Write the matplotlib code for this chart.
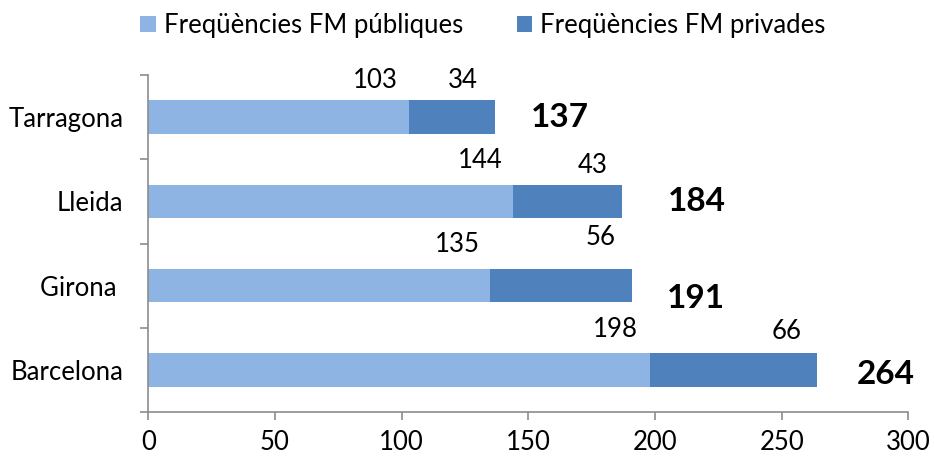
import matplotlib
matplotlib.use("Agg")
import matplotlib.pyplot as plt
import numpy as np

plt.rcParams['font.family'] = ['Lato', 'DejaVu Sans']

categories = ["Barcelona", "Girona ", "Lleida", "Tarragona"]
publiques = [198, 135, 144, 103]
privades = [66, 56, 43, 34]
totals = [264, 191, 184, 137]
series_names = ["Freqüències FM públiques", "Freqüències FM privades"]
x_ticks = [0, 50, 100, 150, 200, 250, 300]

# manually placed label positions (data x, y offset in category units)
pub_label_x = [184.5, 122, 131, 89.5]
pub_label_dy = [0.48, 0.49, 0.48, 0.43]
priv_label_x = [252, 178.6, 175.5, 124]
priv_label_dy = [0.46, 0.57, 0.42, 0.43]
tot_label_x = [291, 216, 216.6, 162.5]
tot_label_dy = [-0.05, -0.15, 0.0, 0.0]

c_pub = "#8EB4E3"
c_priv = "#4F81BD"
axis_c = "#8C8C8C"
fs = 18.5

fig = plt.figure(figsize=(9.34, 4.58), dpi=100)
ax = fig.add_axes([148.3/934, 1-412/458, 760/934, 337/458])

y = np.arange(len(categories))
h = 0.395
ax.barh(y, publiques, height=h, color=c_pub, label=series_names[0])
ax.barh(y, privades, left=publiques, height=h, color=c_priv, label=series_names[1])

for i in range(len(categories)):
    ax.text(pub_label_x[i], y[i] + pub_label_dy[i], str(publiques[i]), ha='center', va='center', fontsize=fs, color='black')
    ax.text(priv_label_x[i], y[i] + priv_label_dy[i], str(privades[i]), ha='center', va='center', fontsize=fs, color='black')
    ax.text(tot_label_x[i], y[i] + tot_label_dy[i], str(totals[i]), ha='center', va='center', fontsize=24, fontweight='bold', color='black')

ax.set_xlim(0, 300)
ax.set_ylim(-0.5, len(categories) - 0.5)
ax.set_xticks(x_ticks)
ax.set_xticklabels([str(t) for t in x_ticks], fontsize=fs)
ax.set_yticks(y)
ax.set_yticklabels(categories, fontsize=fs)
ax.set_yticks(np.arange(-0.5, len(categories), 1.0), minor=True)
ax.tick_params(axis='y', which='major', length=0, pad=18)
ax.tick_params(axis='y', which='minor', length=6, color=axis_c, width=1.2)
ax.tick_params(axis='x', which='major', length=6, color=axis_c, width=1.2, pad=7)

for s in ['top', 'right']:
    ax.spines[s].set_visible(False)
for s in ['left', 'bottom']:
    ax.spines[s].set_color(axis_c)
    ax.spines[s].set_linewidth(1.2)

fig.legend(loc='upper center', bbox_to_anchor=(0.517, 1.022), ncol=2, frameon=False,
           fontsize=fs, handlelength=0.6, handleheight=0.6, handletextpad=0.3, columnspacing=2.1)

fig.savefig("out.png", dpi=100)
